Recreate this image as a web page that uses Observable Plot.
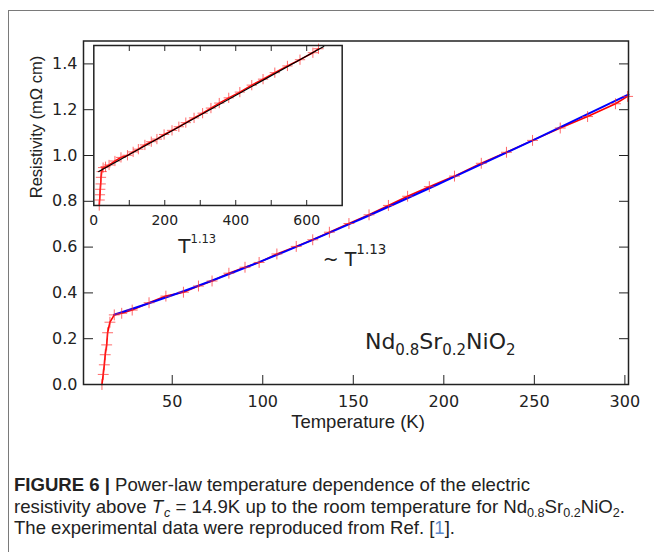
<!DOCTYPE html>
<html><head><meta charset="utf-8">
<script src="https://cdn.jsdelivr.net/npm/d3@7"></script>
<script src="https://cdn.jsdelivr.net/npm/@observablehq/plot@0.6"></script>
<style>
body{margin:0;background:#fff;}
#wrap{position:relative;width:654px;height:552px;overflow:hidden;background:#fff;}
#border{position:absolute;left:8px;top:10px;width:700px;height:600px;border-left:1.5px solid #7a7a7a;border-top:1.5px solid #7a7a7a;}
#main{position:absolute;left:0;top:0;}
#inset{position:absolute;left:83px;top:35px;}
#cap{position:absolute;left:0;top:470px;}
</style></head><body>
<div id="wrap"><div id="border"></div><div id="main"></div><div id="inset"></div><div id="cap"></div></div>
<script>
const tempK = [11.2,11.9,12.5,13.0,13.8,14.3,15.6,18.0,22.1,27.9,37.2,46.5,56.2,64.5,72.0,81.3,90.2,98.0,107.8,118.5,127.6,136.8,147.6,158.7,169.4,180.0,192.0,205.9,220.7,234.6,249.0,264.3,279.4,294.8,301.5];
const resist = [0,0.044,0.086,0.13,0.173,0.226,0.272,0.304,0.311,0.325,0.357,0.386,0.403,0.43,0.452,0.486,0.512,0.533,0.57,0.603,0.632,0.665,0.703,0.741,0.782,0.822,0.864,0.91,0.966,1.014,1.066,1.12,1.17,1.226,1.258];
// power-law fit (blue)
const fitTemp = [18,50,100,150,200,250,302];
const fitResist = [0.305,0.39,0.541,0.708,0.886,1.069,1.266];
// inset linear fit (black) in T^1.13 units
const insetFitX = [14,648];
const insetFitResist = [0.273,1.276];
const exponent = 1.13;
// ticks
const xTicks = [50,100,150,200,250,300];
const yTicks = [0,0.2,0.4,0.6,0.8,1.0,1.2,1.4];
const yTicksRight = [0.2,0.4,0.6,0.8,1.0,1.2,1.4];
const insetTickMarks = [100,200,300,400,500,600];
const insetTickLabels = [0,200,400,600];

const data = tempK.map((t,i)=>({T:t, rho:resist[i], X:Math.pow(t,exponent)}));
const fit = fitTemp.map((t,i)=>({T:t, rho:fitResist[i]}));
const insetFit = insetFitX.map((x,i)=>({X:x, rho:insetFitResist[i]}));

const ink = "#222";
const mainSvg = Plot.plot({
  width:654, height:440,
  marginLeft:83, marginRight:26, marginTop:40.5, marginBottom:56,
  x:{domain:[1,302]},
  y:{domain:[0,1.5]},
  style:{background:"transparent", fontFamily:"DejaVu Sans", fontSize:"16px", color:ink},
  marks:[
    Plot.line(data,{x:"T", y:"rho", stroke:"#ff0000", strokeWidth:1.6}),
    Plot.line(fit,{x:"T", y:"rho", stroke:"#0000ff", strokeWidth:2, curve:"monotone-x"}),
    Plot.dot(data,{x:"T", y:"rho", symbol:"plus", r:3.6, stroke:"#ff2a2a", strokeWidth:1, strokeOpacity:0.7}),
    Plot.frame({stroke:ink, strokeWidth:1.5}),
    Plot.axisX(xTicks,{tickSize:-9, fill:"none", stroke:ink, label:null}),
    Plot.axisX(xTicks,{tickSize:0, tickPadding:11, fill:ink, label:null, fontSize:16}),
    Plot.axisY(yTicks,{tickSize:-10, fill:"none", stroke:ink, label:null}),
    Plot.axisY(yTicks,{tickSize:0, tickPadding:6, fill:ink, label:null, tickFormat:d3.format(".1f"), fontSize:16}),
    Plot.axisY(yTicksRight,{anchor:"right", tickSize:-10, fill:"none", stroke:ink, label:null}),
    Plot.text(["Temperature (K)"],{frameAnchor:"bottom", dy:37.5, dx:2, lineAnchor:"middle", fontSize:18.5, fontFamily:"Liberation Sans", fill:ink}),
    Plot.text(["Resistivity (mΩ cm)"],{frameAnchor:"left", rotate:-90, dx:-47, dy:-14.5, fontSize:16.5, fontFamily:"Liberation Sans", fill:ink})
  ]
});
document.getElementById("main").appendChild(mainSvg);

const sx = mainSvg.scale("x"), sy = mainSvg.scale("y");
const ms = d3.select(mainSvg);
// "~ T^1.13"
const t1 = ms.append("text").attr("x", sx.apply(151)).attr("y", sy.apply(0.515))
  .attr("font-family","DejaVu Sans").attr("font-size",19).attr("fill",ink);
t1.append("tspan").text("~ T");
t1.append("tspan").attr("dy",-12).attr("font-size",13.5).text("1.13");
// compound label
const t2 = ms.append("text").attr("x", sx.apply(198.3)).attr("y", sy.apply(0.153))
  .attr("font-family","DejaVu Sans").attr("font-size",22).attr("fill",ink);
t2.append("tspan").text("Nd");
t2.append("tspan").attr("dy",6).attr("font-size",15).text("0.8");
t2.append("tspan").attr("dy",-6).text("Sr");
t2.append("tspan").attr("dy",6).attr("font-size",15).text("0.2");
t2.append("tspan").attr("dy",-6).text("NiO");
t2.append("tspan").attr("dy",6).attr("font-size",15).text("2");

// inset
const insetSvg = Plot.plot({
  width:278.7, height:220,
  marginLeft:10.3, marginTop:10, marginRight:20, marginBottom:50,
  x:{domain:[0,700]},
  y:{domain:[0,1.284], axis:null},
  style:{background:"transparent", fontFamily:"DejaVu Sans", fontSize:"14px", color:ink, overflow:"visible"},
  marks:[
    Plot.frame({fill:"white", stroke:"none"}),
    Plot.line(data,{x:"X", y:"rho", stroke:"#ff0000", strokeWidth:1.5}),
    Plot.dot(data,{x:"X", y:"rho", symbol:"plus", r:3.4, stroke:"#ff2a2a", strokeWidth:1, strokeOpacity:0.7}),
    Plot.line(insetFit,{x:"X", y:"rho", stroke:"#000", strokeWidth:1.3}),
    Plot.frame({stroke:ink, strokeWidth:1.5}),
    Plot.axisX(insetTickMarks,{tickSize:-5, fill:"none", stroke:ink, label:null}),
    Plot.axisX(insetTickMarks,{anchor:"top", tickSize:-5, fill:"none", stroke:ink, label:null}),
    Plot.axisX(insetTickLabels,{tickSize:0, tickPadding:10, fill:ink, label:null, fontSize:14})
  ]
});
document.getElementById("inset").appendChild(insetSvg);
const ix = insetSvg.scale("x"), iy = insetSvg.scale("y");
const t3 = d3.select(insetSvg).append("text").attr("x", ix.apply(293)).attr("y", iy.apply(0)+48)
  .attr("font-family","DejaVu Sans").attr("font-size",20).attr("fill",ink);
t3.append("tspan").text("T");
t3.append("tspan").attr("dy",-10).attr("font-size",11.5).text("1.13");

// caption
const cap = d3.select("#cap").append("svg").attr("width",654).attr("height",82)
  .attr("font-family","Liberation Sans").attr("font-size",18.5).attr("fill","#222");
const l1 = cap.append("text").attr("x",14).attr("y",21).attr("textLength",516).attr("lengthAdjust","spacingAndGlyphs");
l1.append("tspan").attr("font-weight","bold").text("FIGURE 6 | ");
l1.append("tspan").text("Power-law temperature dependence of the electric");
const l2 = cap.append("text").attr("x",14).attr("y",43).attr("textLength",611).attr("lengthAdjust","spacingAndGlyphs");
l2.append("tspan").text("resistivity above ");
l2.append("tspan").attr("font-style","italic").text("T");
l2.append("tspan").attr("dy",4).attr("dx",1).attr("font-size",12.5).attr("font-style","italic").text("c");
l2.append("tspan").attr("dy",-4).text(" = 14.9K up to the room temperature for Nd");
l2.append("tspan").attr("dy",4).attr("font-size",12.5).text("0.8");
l2.append("tspan").attr("dy",-4).text("Sr");
l2.append("tspan").attr("dy",4).attr("font-size",12.5).text("0.2");
l2.append("tspan").attr("dy",-4).text("NiO");
l2.append("tspan").attr("dy",4).attr("font-size",12.5).text("2");
l2.append("tspan").attr("dy",-4).text(".");
const l3 = cap.append("text").attr("x",14).attr("y",64).attr("textLength",441).attr("lengthAdjust","spacingAndGlyphs");
l3.append("tspan").text("The experimental data were reproduced from Ref. [");
l3.append("tspan").attr("fill","#5b86c8").text("1");
l3.append("tspan").text("].");
</script>
</body></html>
